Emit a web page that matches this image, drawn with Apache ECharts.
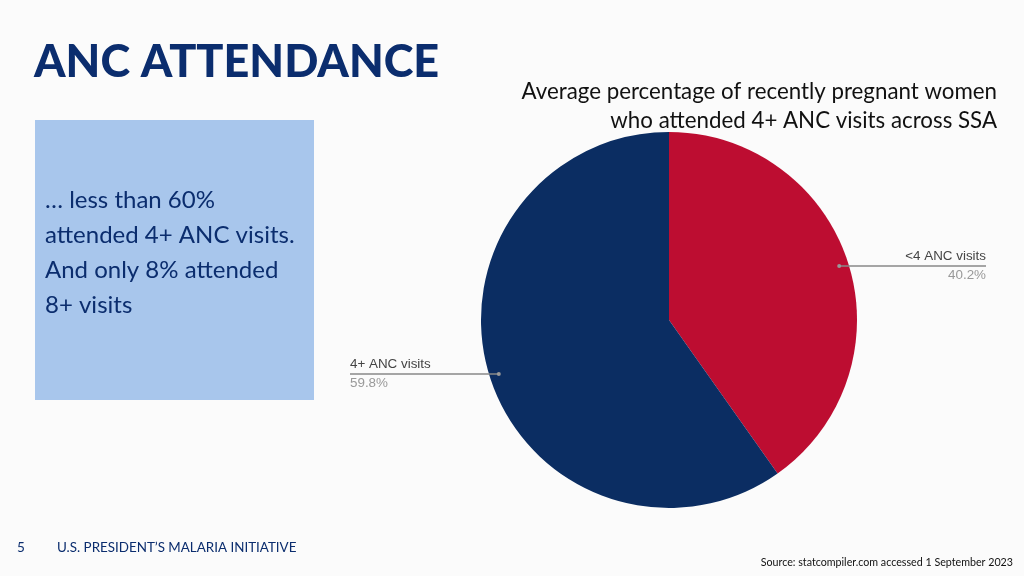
<!DOCTYPE html>
<html>
<head>
<meta charset="utf-8">
<script src="https://cdn.jsdelivr.net/npm/echarts@6/dist/echarts.min.js"></script>
<style>
html,body{margin:0;padding:0;background:#fbfbfb;}
#chart{width:1024px;height:576px;}
</style>
</head>
<body>
<div id="chart"></div>
<script>
const categories = ['<4 ANC visits', '4+ ANC visits'];
const values = [40.2, 59.8];
const colors = ['#bd0d31', '#0b2d62'];

const CX = 669, CY = 320, R = 188;
const navy = '#0b2d6e';
const serif = 'Lato, "Open Sans", sans-serif';

function midPoint(idx, frac) {
  const total = values.reduce((a, b) => a + b, 0);
  let before = 0;
  for (let i = 0; i < idx; i++) before += values[i];
  const a = (before + values[idx] / 2) / total * 2 * Math.PI;
  return [CX + Math.sin(a) * R * frac, CY - Math.cos(a) * R * frac];
}

const pieData = categories.map((c, i) => ({ name: c, value: values[i], itemStyle: { color: colors[i] } }));

const dots = values.map((v, i) => {
  const p = midPoint(i, 0.95);
  return { type: 'circle', z: 100, shape: { cx: p[0], cy: p[1], r: 2 }, style: { fill: '#999' } };
});

const chart = echarts.init(document.getElementById('chart'));
chart.setOption({
  animation: false,
  backgroundColor: '#fbfbfb',
  graphic: [
    { type: 'text', x: 34, y: 62,
      style: { text: 'ANC ATTENDANCE', font: '900 45px ' + serif, fill: navy, textVerticalAlign: 'middle' } },
    { type: 'text', x: 997, y: 92,
      style: { text: 'Average percentage of recently pregnant women', font: 'normal 22.3px ' + serif, fill: '#111', textAlign: 'right', textVerticalAlign: 'middle' } },
    { type: 'text', x: 997, y: 121,
      style: { text: 'who attended 4+ ANC visits across SSA', font: 'normal 22.3px ' + serif, fill: '#111', textAlign: 'right', textVerticalAlign: 'middle' } },
    { type: 'rect', shape: { x: 35, y: 120, width: 279, height: 280 }, style: { fill: '#a8c6ec' } },
    { type: 'text', x: 45, y: 200, style: { text: '… less than 60%', font: 'normal 24px ' + serif, fill: navy, textVerticalAlign: 'middle' } },
    { type: 'text', x: 45, y: 235, style: { text: 'attended 4+ ANC visits.', font: 'normal 24px ' + serif, fill: navy, textVerticalAlign: 'middle' } },
    { type: 'text', x: 45, y: 270, style: { text: 'And only 8% attended', font: 'normal 24px ' + serif, fill: navy, textVerticalAlign: 'middle' } },
    { type: 'text', x: 45, y: 305, style: { text: '8+ visits', font: 'normal 24px ' + serif, fill: navy, textVerticalAlign: 'middle' } },
    { type: 'text', x: 17, y: 548, style: { text: '5', font: 'normal 13.5px ' + serif, fill: navy, textVerticalAlign: 'middle' } },
    { type: 'text', x: 57, y: 548, style: { text: 'U.S. PRESIDENT’S MALARIA INITIATIVE', font: 'normal 13.4px ' + serif, fill: navy, textVerticalAlign: 'middle' } },
    { type: 'text', x: 1013, y: 563, style: { text: 'Source: statcompiler.com accessed 1 September 2023', font: 'normal 10.7px ' + serif, fill: '#111', textAlign: 'right', textVerticalAlign: 'middle' } }
  ].concat(dots),
  series: [{
    type: 'pie',
    z: 2,
    center: [CX, CY],
    radius: R,
    startAngle: 90,
    clockwise: true,
    silent: true,
    data: pieData,
    label: { show: false },
    labelLine: { show: false }
  }, {
    type: 'pie',
    z: 3,
    center: [CX, CY],
    radius: R,
    startAngle: 90,
    clockwise: true,
    silent: true,
    data: pieData.map(d => ({ name: d.name, value: d.value, itemStyle: { color: 'rgba(0,0,0,0)' } })),
    label: {
      show: true,
      position: 'outside',
      overflow: 'none',
      width: 200,
      formatter: p => '{n|' + p.name + '}\n{v|' + p.value.toFixed(1) + '%}',
      rich: {
        n: { fontFamily: 'Liberation Sans, Arial, sans-serif', fontSize: 13.4, color: '#444', lineHeight: 19 },
        v: { fontFamily: 'Liberation Sans, Arial, sans-serif', fontSize: 13.4, color: '#999', lineHeight: 19 }
      }
    },
    labelLine: { show: true, length: 0, length2: 100, lineStyle: { color: '#888', width: 1.5 } },
    labelLayout: function (p) {
      const s = midPoint(p.dataIndex, 0.95);
      const sx = s[0], sy = s[1];
      const right = sx > CX;
      const ex = right ? 986 : 350;
      return {
        x: ex, y: sy,
        align: right ? 'right' : 'left',
        verticalAlign: 'middle',
        labelLinePoints: [[sx, sy], [sx, sy], [ex, sy]]
      };
    }
  }]
});
</script>
</body>
</html>
